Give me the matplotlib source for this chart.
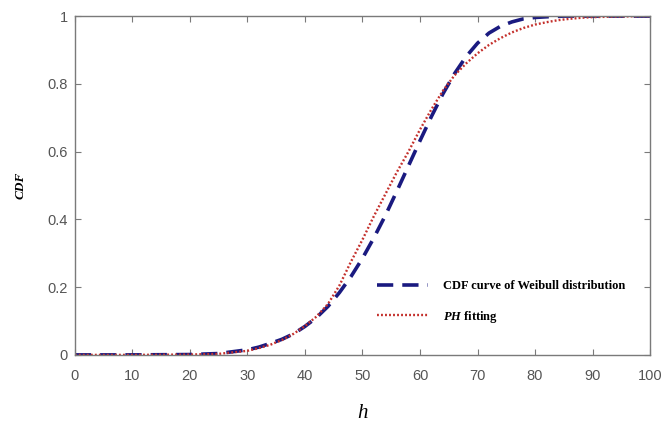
import matplotlib
matplotlib.use("Agg")
import matplotlib.pyplot as plt
from matplotlib.ticker import FuncFormatter

plt.rcParams["mathtext.fontset"] = "custom"
plt.rcParams["mathtext.it"] = "Liberation Serif:italic:bold"
plt.rcParams["mathtext.rm"] = "Liberation Serif:bold"

# values
h_weibull = [0, 10, 20, 25, 30, 32, 34, 36, 38, 40, 42, 44, 46, 48, 50, 52, 54, 56, 58,
             60, 62, 64, 66, 68, 70, 72, 74, 76, 78, 80, 82, 85, 90, 100]
cdf_weibull = [0, 0, 0.001, 0.004, 0.015, 0.023, 0.034, 0.046, 0.062, 0.084, 0.11, 0.143,
               0.184, 0.231, 0.285, 0.346, 0.412, 0.484, 0.558, 0.632, 0.704, 0.771, 0.83,
               0.88, 0.92, 0.95, 0.97, 0.983, 0.992, 0.996, 0.998, 1.0, 1.0, 1.0]

h_ph = [0, 10, 20, 25, 30, 32, 34, 36, 38, 40, 42, 44, 46, 48, 50, 52, 54, 56, 58, 60,
        62, 64, 66, 68, 70, 72, 74, 76, 78, 80, 82, 84, 86, 88, 90, 95, 100]
cdf_ph = [0, 0, 0.001, 0.003, 0.012, 0.02, 0.03, 0.044, 0.062, 0.085, 0.113, 0.15, 0.205,
          0.275, 0.34, 0.41, 0.475, 0.54, 0.60, 0.665, 0.725, 0.78, 0.825, 0.86, 0.89,
          0.915, 0.935, 0.952, 0.965, 0.975, 0.982, 0.988, 0.992, 0.995, 0.997, 0.999, 1.0]

fig = plt.figure(figsize=(6.62, 4.24), dpi=100)
ax = fig.add_axes([0.113, 0.163, 0.869, 0.799])

ax.plot(h_weibull, cdf_weibull, color="#1a1a80", linewidth=2.6, linestyle=(0, (4.5, 2.5)),
        label="CDF curve of Weibull distribution")
ax.plot(h_ph, cdf_ph, color="#c4302c", linewidth=1.7, linestyle=(0, (0.8, 0.9)),
        label=r"$PH$ fitting")

ax.set_xlim(0, 100)
ax.set_ylim(0, 1)
ax.set_xticks(range(0, 101, 10))
ax.set_yticks([0, 0.2, 0.4, 0.6, 0.8, 1])
ax.yaxis.set_major_formatter(FuncFormatter(lambda v, p: f"{v:g}"))

for s in ax.spines.values():
    s.set_color("#7a7a7a")
    s.set_linewidth(1.0)
ax.tick_params(direction="in", length=4, width=0.8, color="#7a7a7a",
               labelcolor="#555555", labelsize=10.5, top=True, right=True)
ax.tick_params(axis="x", pad=10)
ax.tick_params(axis="y", pad=5)
for lbl in ax.get_xticklabels() + ax.get_yticklabels():
    lbl.set_family("Liberation Sans")

ax.set_xlabel("h", family="Liberation Serif", style="italic", fontsize=15, labelpad=15)
ax.set_ylabel("CDF", family="Liberation Serif", style="italic", weight="bold",
              fontsize=9.5, labelpad=15)

ax.legend(loc="center left", bbox_to_anchor=(0.525, 0.155), frameon=False,
          prop={"family": "Liberation Serif", "weight": "bold", "size": 9},
          handlelength=4.1, handletextpad=1.2, labelspacing=1.3,
          borderpad=0, borderaxespad=0)

fig.savefig("out.png", dpi=100)
